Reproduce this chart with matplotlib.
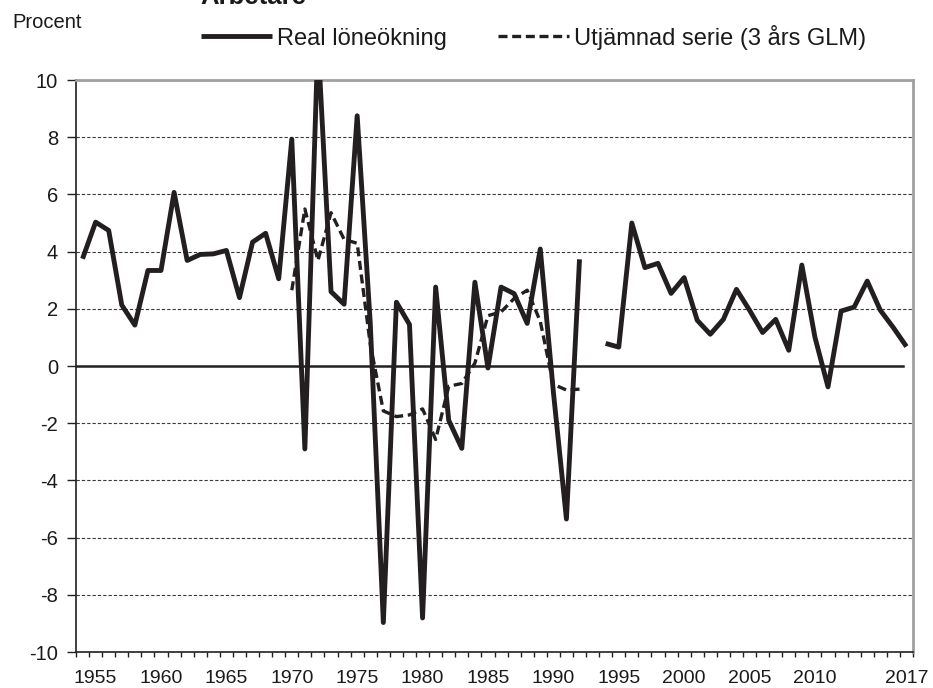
import numpy as np
import matplotlib
matplotlib.use('Agg')
import matplotlib.pyplot as plt
from matplotlib.ticker import FixedLocator, NullFormatter, FixedFormatter

years = list(range(1954, 2018))

real_wage = [3.75, 5.03, 4.74, 2.13, 1.43, 3.34, 3.34, 6.07, 3.69, 3.90,
             3.92, 4.04, 2.39, 4.33, 4.64, 3.05, 7.93, -2.90, 11.4, 2.60,
             2.16, 8.75, 1.5, -8.97, 2.23, 1.45, -8.81, 2.76, -1.90, -2.88,
             2.93, -0.07, 2.76, 2.53, 1.49, 4.09, -0.9, -5.35, 3.73, np.nan,
             0.79, 0.66, 5.00, 3.44, 3.59, 2.54, 3.09, 1.60, 1.11, 1.63,
             2.68, 1.95, 1.17, 1.63, 0.55, 3.53, 1.01, -0.73, 1.92, 2.06,
             2.97, 1.95, 1.34, 0.68]

smoothed_years = list(range(1970, 1993))
smoothed = [2.65, 5.49, 3.69, 5.36, 4.43, 4.29, 0.76, -1.57, -1.77, -1.71,
            -1.50, -2.57, -0.71, -0.61, 0.10, 1.76, 1.89, 2.36, 2.65, 1.56,
            -0.64, -0.84, -0.81]

xtick_years = [1955, 1960, 1965, 1970, 1975, 1980, 1985, 1990, 1995, 2000,
               2005, 2010, 2017]
yticks = list(range(-10, 11, 2))

series_names = ['Real löneökning', 'Utjämnad serie (3 års GLM)']
title = 'Arbetare'
ylabel = 'Procent'

plt.rcParams['font.family'] = ['Liberation Sans', 'DejaVu Sans']
W, H = 933, 688
fig = plt.figure(figsize=(W / 100, H / 100), dpi=100)
ax = fig.add_axes([76 / W, 36 / H, 837 / W, 572 / H])

ink = '#231f20'
x = np.arange(len(years))
xs = np.array([years.index(y) for y in smoothed_years])

ax.plot(x, real_wage, color=ink, lw=3.5, label=series_names[0], zorder=4,
        solid_capstyle='butt')
ax.plot(xs, smoothed, color=ink, lw=2.4, ls=(0, (2.7, 1.4)),
        label=series_names[1], zorder=3)

ax.set_xlim(-0.5, len(years) - 0.5)
ax.set_ylim(-10, 10)

for v in yticks:
    if v not in (-10, 0, 10):
        ax.axhline(v, color='#3a3a3a', lw=0.8, ls=(0, (3, 1.8)), zorder=1)
ax.axhline(0, xmin=0, xmax=0.988, color=ink, lw=1.8, zorder=2)

# axes styling
for s in ('left', 'bottom'):
    ax.spines[s].set_color(ink)
    ax.spines[s].set_linewidth(1.2)
for s in ('top', 'right'):
    ax.spines[s].set_color('#a0a0a0')
    ax.spines[s].set_linewidth(2.0)

ax.xaxis.set_major_locator(FixedLocator(np.arange(-0.5, len(years), 1)))
ax.xaxis.set_major_formatter(NullFormatter())
ax.xaxis.set_minor_locator(FixedLocator([years.index(y) for y in xtick_years]))
ax.xaxis.set_minor_formatter(FixedFormatter([str(y) for y in xtick_years]))
ax.tick_params(axis='x', which='major', direction='out', length=3.6, width=1.0,
               color=ink)
ax.tick_params(axis='x', which='minor', length=0, labelsize=14, pad=13,
               labelcolor='#1a1a1a')

ax.set_yticks(yticks)
ax.set_yticklabels([str(v) for v in yticks])
ax.tick_params(axis='y', direction='out', length=6.5, width=1.0, color=ink,
               labelsize=14.5, pad=6.5, labelcolor='#1a1a1a')

# title (partly cut at top as in reference) and unit label
fig.text(200 / W, 1 - 4.5 / H, title, fontsize=18.5, fontweight='bold',
         va='baseline', ha='left', color='#1a1a1a')
fig.text(12 / W, 1 - 28 / H, ylabel, fontsize=14.5, va='baseline', ha='left',
         color='#1a1a1a')

fig.legend(loc='center left', bbox_to_anchor=(201 / W, 1 - 37 / H),
           ncol=2, frameon=False, fontsize=17, handlelength=3.0,
           handletextpad=0.2, columnspacing=2.2, borderpad=0,
           borderaxespad=0, labelcolor='#1a1a1a')

fig.savefig('out.png', dpi=100)
